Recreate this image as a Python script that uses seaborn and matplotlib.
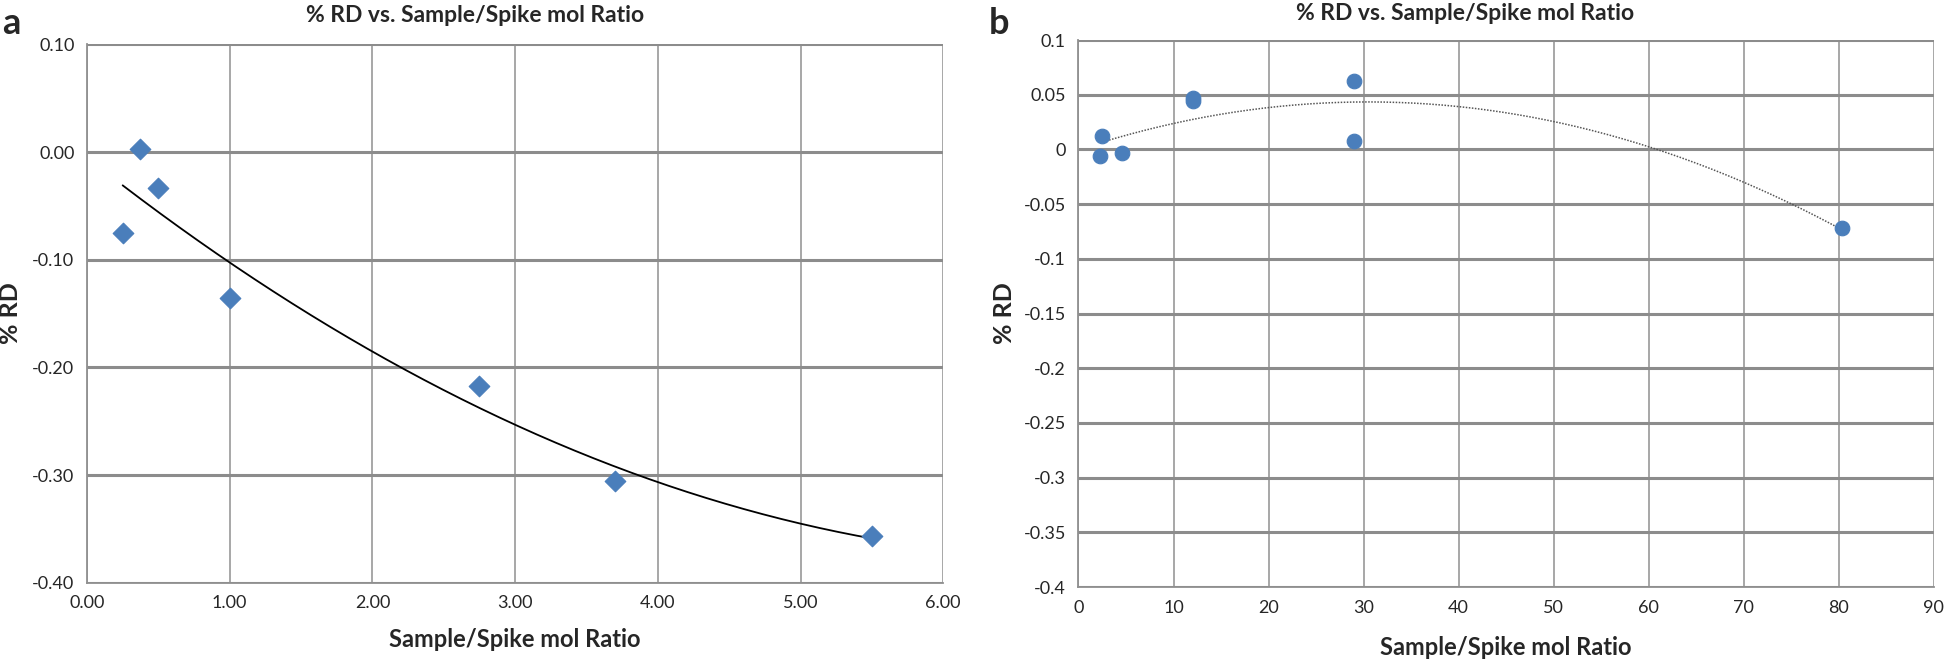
import numpy as np
import pandas as pd
import matplotlib
matplotlib.use("Agg")
import matplotlib.pyplot as plt
import seaborn as sns
from matplotlib.ticker import FuncFormatter, MultipleLocator

# panel a
ratio_a = [0.25, 0.37, 0.50, 1.00, 2.75, 3.70, 5.50]
rd_a = [-0.075, 0.003, -0.033, -0.136, -0.217, -0.306, -0.357]

# panel b
ratio_b = [2.3, 2.5, 4.6, 12.0, 12.0, 29.0, 29.0, 80.3]
rd_b = [-0.006, 0.012, -0.003, 0.044, 0.047, 0.063, 0.008, -0.072]

title = "% RD vs. Sample/Spike mol Ratio"
xlabel = "Sample/Spike mol Ratio"
ylabel = "% RD"

df_a = pd.DataFrame({"ratio": ratio_a, "rd": rd_a})
df_b = pd.DataFrame({"ratio": ratio_b, "rd": rd_b})

sns.set_style("white")
plt.rcParams["font.family"] = ["Lato", "DejaVu Sans"]

blue = "#4a7ebb"
fig = plt.figure(figsize=(19.46, 6.63), dpi=100)
ax1 = fig.add_axes([0.0447, 0.1211, 0.440, 0.812])
ax2 = fig.add_axes([0.5542, 0.1146, 0.4396, 0.825])


def general(v, pos):
    s = f"{v:.2f}".rstrip("0").rstrip(".")
    return "0" if s in ("-0", "0") else s


def style_axes(ax, xlab_y, ylab_x):
    ax.grid(False)
    for x in ax.get_xticks():
        ax.axvline(x, color="#a0a0a0", lw=1.3, zorder=0)
    for y in ax.get_yticks():
        ax.axhline(y, color="#8c8c8c", lw=2.2, zorder=0)
    for side in ["top", "right"]:
        ax.spines[side].set_visible(False)
    for side in ["left", "bottom"]:
        ax.spines[side].set_color("#909090")
        ax.spines[side].set_linewidth(1.3)
    ax.tick_params(axis="both", labelsize=13, length=5, color="#909090",
                   direction="out", pad=4)
    ax.set_xlabel(xlabel, fontsize=17, fontweight="bold")
    ax.set_ylabel(ylabel, fontsize=18, fontweight="bold")
    ax.xaxis.set_label_coords(0.5, xlab_y)
    ax.yaxis.set_label_coords(ylab_x, 0.5)
    ax.xaxis.label.set_va("center")
    ax.yaxis.label.set_va("center")


# panel a: polynomial trendline (order 2)
ax1.set_xlim(0, 6)
ax1.set_ylim(-0.4, 0.1)
ax1.xaxis.set_major_locator(MultipleLocator(1))
ax1.yaxis.set_major_locator(MultipleLocator(0.1))
ax1.xaxis.set_major_formatter(FuncFormatter(lambda v, p: f"{v:.2f}"))
ax1.yaxis.set_major_formatter(FuncFormatter(lambda v, p: f"{v:.2f}"))
coef_a = np.polyfit(ratio_a, rd_a, 2)
xs_a = np.linspace(min(ratio_a), max(ratio_a), 200)
sns.lineplot(x=xs_a, y=np.polyval(coef_a, xs_a), ax=ax1, color="black",
             lw=1.3, zorder=3)
sns.scatterplot(data=df_a, x="ratio", y="rd", ax=ax1, marker="D", s=110,
                color=blue, edgecolor=blue, zorder=4)
style_axes(ax1, -0.106, -0.089)

# panel b: polynomial trendline (order 2), dotted
ax2.set_xlim(0, 90)
ax2.set_ylim(-0.4, 0.1)
ax2.xaxis.set_major_locator(MultipleLocator(10))
ax2.yaxis.set_major_locator(MultipleLocator(0.05))
ax2.xaxis.set_major_formatter(FuncFormatter(lambda v, p: f"{v:.0f}"))
ax2.yaxis.set_major_formatter(FuncFormatter(general))
coef_b = np.polyfit(ratio_b, rd_b, 2)
xs_b = np.linspace(min(ratio_b), max(ratio_b), 200)
sns.lineplot(x=xs_b, y=np.polyval(coef_b, xs_b), ax=ax2, color="#555555",
             lw=1.1, linestyle=(0, (1, 1)), zorder=3)
sns.scatterplot(data=df_b, x="ratio", y="rd", ax=ax2, marker="o", s=110,
                color=blue, edgecolor=blue, zorder=4)
style_axes(ax2, -0.110, -0.087)

fig.text(0.244, 0.977, title, fontsize=16.5, fontweight="bold",
         ha="center", va="center")
fig.text(0.753, 0.980, title, fontsize=16.5, fontweight="bold",
         ha="center", va="center")
fig.text(0.001, 0.965, "a", fontsize=26, fontweight="bold", va="center")
fig.text(0.508, 0.965, "b", fontsize=26, fontweight="bold", va="center")

fig.savefig("out.png", dpi=100)
